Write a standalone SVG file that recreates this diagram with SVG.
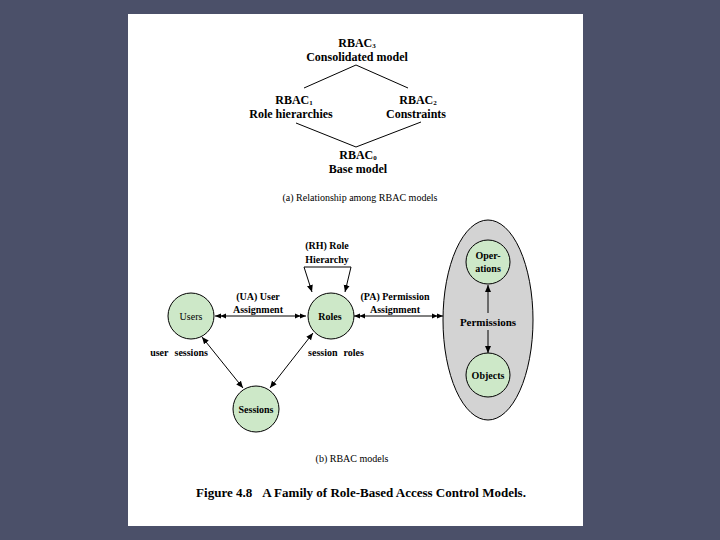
<svg xmlns="http://www.w3.org/2000/svg" width="720" height="540" viewBox="0 0 720 540">
<defs>
<style>
text{font-family:"Liberation Serif","Times New Roman",serif;fill:#000;text-anchor:middle}
.b{font-weight:bold}
.t{font-size:12px;font-weight:bold}
.l{font-size:10px;font-weight:bold}
.n{font-size:10px}
.s{font-size:7px}
.node{fill:#cde8c8;stroke:#000;stroke-width:1}
.ln{stroke:#000;stroke-width:1;fill:none}
</style>
<marker id="dbl" markerUnits="userSpaceOnUse" markerWidth="12" markerHeight="8" refX="11" refY="3" orient="auto-start-reverse" viewBox="0 0 12 6">
<path d="M0,0.5 L5.5,3 L0,5.5 z M5,0.5 L11,3 L5,5.5 z" fill="#000"/>
</marker>
<marker id="one" markerUnits="userSpaceOnUse" markerWidth="8" markerHeight="8" refX="7" refY="3" orient="auto-start-reverse" viewBox="0 0 8 6">
<path d="M0,0 L7,3 L0,6 z" fill="#000"/>
</marker>
</defs>
<rect x="0" y="0" width="720" height="540" fill="#4b5069"/>
<rect x="128" y="14" width="455" height="512" fill="#fff"/>

<g id="part-a">
<g id="connectors-a" class="ln">
<line x1="356" y1="65" x2="304" y2="88"/>
<line x1="356" y1="65" x2="408" y2="88"/>
<line x1="296" y1="123" x2="356" y2="147"/>
<line x1="421" y1="122" x2="356" y2="147"/>
</g>
<g id="rbac3"><text class="t" x="357" y="47">RBAC<tspan class="s" dy="1">3</tspan></text><text class="t" x="357" y="61">Consolidated model</text></g>
<g id="rbac1"><text class="t" x="294" y="104">RBAC<tspan class="s" dy="1">1</tspan></text><text class="t" x="291" y="118">Role hierarchies</text></g>
<g id="rbac2"><text class="t" x="418" y="104">RBAC<tspan class="s" dy="1">2</tspan></text><text class="t" x="416" y="118">Constraints</text></g>
<g id="rbac0"><text class="t" x="358" y="159">RBAC<tspan class="s" dy="1">0</tspan></text><text class="t" x="358" y="173">Base model</text></g>
<text class="n" x="360" y="201">(a) Relationship among RBAC models</text>
</g>

<g id="permissions-group">
<ellipse cx="488" cy="320" rx="45" ry="100" fill="#d3d3d3" stroke="#000" stroke-width="1"/>
<text class="b" font-size="11" x="488" y="326">Permissions</text>
</g>

<g id="connectors">
<line class="ln" x1="215" y1="316" x2="306" y2="316" marker-start="url(#dbl)" marker-end="url(#dbl)"/>
<line class="ln" x1="354" y1="316" x2="443" y2="316" marker-start="url(#dbl)" marker-end="url(#dbl)"/>
<polyline class="ln" points="312,292 304,267 351,267 345,292" marker-start="url(#one)" marker-end="url(#one)"/>
<line class="ln" x1="202" y1="337" x2="243" y2="388" marker-start="url(#one)" marker-end="url(#one)"/>
<line class="ln" x1="313" y1="333" x2="270" y2="388" marker-start="url(#one)" marker-end="url(#one)"/>
<line class="ln" x1="488" y1="285" x2="488" y2="313" marker-start="url(#one)"/>
<line class="ln" x1="488" y1="330" x2="488" y2="353" marker-end="url(#one)"/>
</g>

<g id="users"><circle class="node" cx="191" cy="316" r="23"/><text class="n" x="191" y="320">Users</text></g>
<g id="roles"><circle class="node" cx="331" cy="316" r="23"/><text class="l" x="330" y="320">Roles</text></g>
<g id="sessions"><circle class="node" cx="256" cy="409" r="23"/><text class="l" x="256" y="413">Sessions</text></g>
<g id="operations"><circle class="node" cx="488" cy="262" r="22"/><text class="l" x="488" y="259">Oper-</text><text class="l" x="488" y="272">ations</text></g>
<g id="objects"><circle class="node" cx="488" cy="375" r="22"/><text class="l" x="488" y="379">Objects</text></g>

<g id="labels">
<text class="l" x="327" y="249">(RH) Role</text>
<text class="l" x="327" y="263">Hierarchy</text>
<text class="l" x="258" y="300">(UA) User</text>
<text class="l" x="258" y="313">Assignment</text>
<text class="l" x="395" y="300">(PA) Permission</text>
<text class="l" x="395" y="313">Assignment</text>
<text class="l" x="179" y="356">user<tspan dx="6">sessions</tspan></text>
<text class="l" x="336" y="356">session<tspan dx="6">roles</tspan></text>
</g>

<text class="n" x="352" y="462">(b) RBAC models</text>
<text class="b" font-size="13" x="361" y="497">Figure 4.8<tspan dx="10">A Family of Role-Based Access Control Models.</tspan></text>
</svg>
